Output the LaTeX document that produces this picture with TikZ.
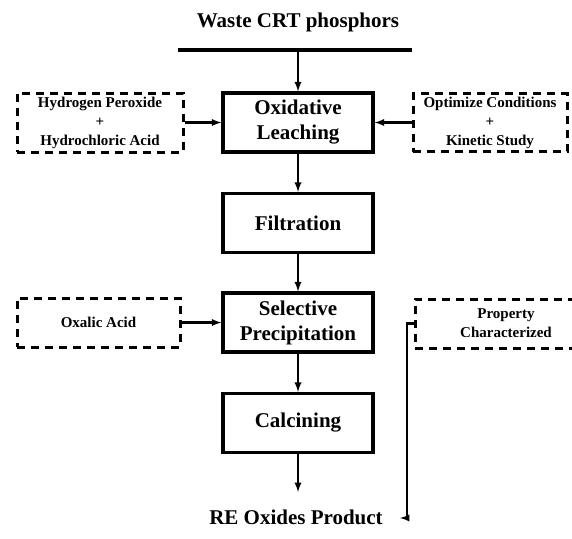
\documentclass[tikz,border=0pt]{standalone}
\usepackage{fontspec}
\setmainfont{Liberation Serif}
\usetikzlibrary{positioning}

\begin{document}
\begin{tikzpicture}[x=1pt,y=-1pt]
          \tikzstyle{stepbox}=[draw,line width=3.3pt,minimum width=150pt,minimum height=59pt,align=center,font=\fontsize{21}{25}\selectfont\bfseries,inner sep=0pt]
          \tikzstyle{inputbox}=[draw,line width=3pt,dash pattern=on 8pt off 6pt,align=center,font=\fontsize{15}{19}\selectfont\bfseries,inner sep=0pt]
          \tikzstyle{flow}=[line width=2.2pt,-latex]
          \useasboundingbox (0,0) rectangle (572,538);

          \node (waste) at (298,22) [font=\fontsize{21}{25}\selectfont\bfseries] {Waste CRT phosphors};
          \coordinate (barL) at (178,50);
          \coordinate (barR) at (412,50);
          \coordinate (barM) at (298,50);

          \node (oxid) at (298,122.5) [stepbox] {Oxidative\\Leaching};
          \node (filt) at (298,223) [stepbox] {Filtration};
          \node (prec) at (298,322.5) [stepbox] {Selective\\Precipitation};
          \node (calc) at (298,423) [stepbox] {Calcining};
          \node (prod) at (296,517) [font=\fontsize{21}{25}\selectfont\bfseries] {RE Oxides Product};
          \coordinate (prodtip) at (298,492);

          \node (acids) at (100,122.5) [inputbox,minimum width=166pt,minimum height=59pt] {Hydrogen Peroxide\\+\\Hydrochloric Acid};
          \node (optim) at (490,122.5) [inputbox,minimum width=154pt,minimum height=58pt] {Optimize Conditions\\+\\Kinetic Study};
          \node (oxal) at (98.5,322.5) [inputbox,minimum width=163pt,minimum height=49pt] {Oxalic Acid};
          \node (prop) at (506,323.5) [inputbox,minimum width=182pt,minimum height=49pt] {Property\\Characterized};
          \coordinate (propturn) at (407,323.5);
          \coordinate (propdown) at (407,518);
          \coordinate (propend) at (400,518);

          \draw[line width=3.8pt] (barL) -- (barR);
          \draw[flow] (barM) -- (oxid);
          \draw[flow] (acids) -- (oxid);
          \draw[flow] (optim) -- (oxid);
          \draw[flow] (oxid) -- (filt);
          \draw[flow] (filt) -- (prec);
          \draw[flow] (oxal) -- (prec);
          \draw[flow] (prec) -- (calc);
          \draw[flow] (calc) -- (prodtip);
          \draw[flow] (prop.west) -- (propturn) -- (propdown) -- (propend);
        \end{tikzpicture}
\end{document}
